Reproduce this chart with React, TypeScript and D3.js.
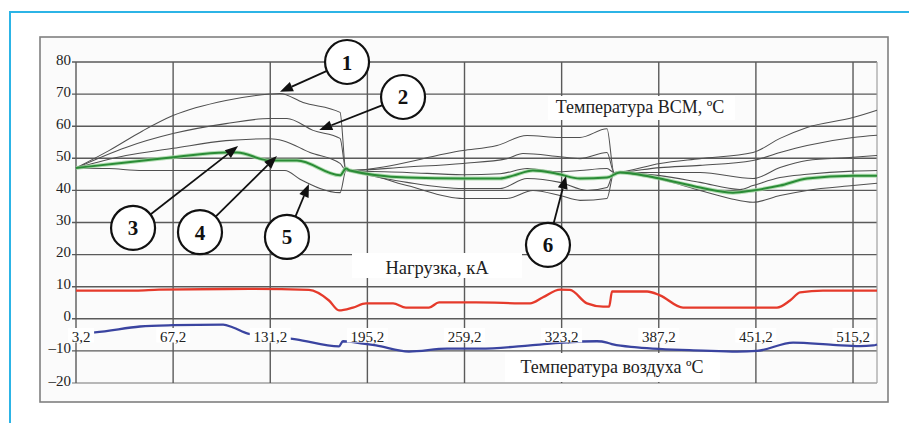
import React from 'react';
import * as d3 from 'd3';

type P = [number, number];

// axis ticks
const yTicks = [80, 70, 60, 50, 40, 30, 20, 10, 0, -10, -20];
const yTickLabels = ['80', '70', '60', '50', '40', '30', '20', '10', '0', '–10', '–20'];
const xTicks = [3.2, 67.2, 131.2, 195.2, 259.2, 323.2, 387.2, 451.2, 515.2];
const xTickLabels = ['3,2', '67,2', '131,2', '195,2', '259,2', '323,2', '387,2', '451,2', '515,2'];

// Температура ВСМ — thin grey curves
const bsm1: P[] = [
  [3.2, 47], [24.9, 52.4], [47.3, 58.6], [67.1, 63.3], [102, 68], [131, 70], [137.6, 70.2], [152.8, 67.4], [177.2, 64.3], [181.1, 46.2],
  [258.2, 52.4], [280.6, 54], [300.4, 57.1], [322.1, 56.5], [335.3, 56.5], [353.1, 59.2], [357.7, 45.6],
  [388, 48.4], [414.4, 49.9], [449.3, 51.8], [467.1, 56.2], [484.9, 59.6], [515.2, 62.7], [531, 65],
];
const bsm2: P[] = [
  [3.2, 47], [36.1, 53.4], [67.1, 57.7], [102, 60.8], [131, 62.4], [142.2, 62.4], [159.4, 58.7], [177.2, 56.2], [181.1, 46.2],
  [221.3, 47.3], [258.2, 48.4], [287.2, 49.9], [297.7, 51.5], [322.1, 50.5], [335.3, 49.9], [353.1, 51.8], [357.7, 45.6],
  [388, 47.1], [414.4, 47.8], [449.3, 49.3], [467.1, 51.8], [484.9, 54], [515.2, 56.5], [531, 57.2],
];
const bsm3: P[] = [
  [3.2, 47], [36.1, 50.9], [67.1, 53.1], [102, 55.5], [131, 56.1], [139.6, 55.5], [157.4, 51.8], [177.2, 48.4], [181.1, 46.2],
  [221.3, 45.6], [258.2, 44.9], [282.6, 45.2], [300.4, 46.8], [322.1, 45.8], [335.3, 46.2], [353.1, 46.8], [357.7, 45.6],
  [388, 45.6], [414.4, 45.6], [449.3, 43.7], [467.1, 47.1], [484.9, 49.3], [515.2, 50.3], [531, 50.9],
];
const bsm4: P[] = [
  [181.1, 46.2], [221.3, 42.5], [258.2, 40.6], [282.6, 40.6], [300.4, 43.7], [322.1, 42.5], [339.9, 40], [353.1, 40.9], [357.7, 45.6],
  [388, 44.6], [414.4, 42.5], [440.7, 40.3], [449.3, 41.5], [467.1, 44], [484.9, 45], [515.2, 46], [531, 46.2],
];
const bsm5: P[] = [
  [3.2, 47], [24.9, 46.8], [47.3, 46.2], [131, 46.2], [140.9, 46.2], [150.8, 43.5], [177.2, 39.3], [181.1, 46.2],
  [221.3, 41.5], [258.2, 37.5], [287.2, 37.5], [304.3, 40], [322.1, 38.4], [335.3, 36.9], [353.1, 37.5], [357.7, 45.6],
  [388, 43.5], [414.4, 40], [434, 37.5], [449.3, 36.3], [467.1, 38.4], [484.9, 40], [515.2, 41.5], [531, 42.2],
];
// green (6)
const bsmGreen: P[] = [
  [3.2, 47], [36.1, 48.7], [67.1, 50.3], [102, 51.8], [109.3, 51.8], [131, 49.3], [148.8, 49.3], [177.2, 44.7], [181.1, 46.8], [183.7, 46.2],
  [221.3, 44], [258.2, 43.7], [282.6, 43.7], [291.2, 44.6], [304.3, 46.2], [320.1, 45.2], [335.3, 43.7], [353.1, 44], [361.7, 45.6],
  [370.2, 45.2], [388, 43.7], [414.4, 40.9], [436.1, 39.3], [449.3, 40], [467.1, 41.5], [484.9, 43.7], [515.2, 44.6], [531, 44.6],
];

// Нагрузка, кА
const load: P[] = [
  [3.2, 8.8], [42.7, 8.8], [57.9, 9.1], [117.2, 9.3], [156.7, 9.0], [169.9, 5.7], [176.5, 2.6], [185.7, 3.5], [194.3, 4.8],
  [212.1, 4.8], [220.6, 3.5], [235.8, 3.5], [242.4, 5.1], [266.8, 5.1], [302.4, 4.8], [310.9, 6.7], [322.1, 9.1], [328.7, 9.0],
  [339.9, 4.8], [350.5, 3.8], [354.5, 3.8], [356.4, 8.5], [379.5, 8.5], [388, 7.3], [403.2, 3.5], [465.1, 3.5], [473.7, 5.7],
  [480.3, 8.2], [495.4, 8.8], [531, 8.8],
];

// Температура воздуха
const air: P[] = [
  [3.2, -4.4], [15.7, -4.2], [45.4, -2.4], [67.1, -2.0], [100.1, -1.8], [106.7, -2.7], [116.5, -4.6], [148.2, -6.4],
  [176.5, -8.6], [179.1, -7.0], [192.3, -7.7], [200.9, -8.3], [222.6, -10.2], [247.7, -9.3], [269.4, -9.3], [302.4, -8.3],
  [324.1, -7.4], [346.5, -7.0], [353.1, -7.4], [357.1, -8.0], [372.9, -8.9], [416.4, -9.9], [438.8, -10.2], [451.9, -10.0],
  [475.7, -7.4], [502, -8.1], [519.8, -8.5], [528.4, -8.3], [531, -8.0],
];

// numbered callouts: circle centre and arrow tip in data units
const callouts = [
  { n: '1', cx: 181.8, cy: 80, tx: 137.6, ty: 70.7 },
  { n: '2', cx: 218.7, cy: 69.1, tx: 163.5, ty: 58.8 },
  { n: '3', cx: 40.8, cy: 28.3, tx: 110.0, ty: 53.8 },
  { n: '4', cx: 84.9, cy: 27.0, tx: 135.6, ty: 50.7 },
  { n: '5', cx: 142.2, cy: 25.5, tx: 156.7, ty: 42.0 },
  { n: '6', cx: 314.2, cy: 23.0, tx: 326.1, ty: 44.5 },
];

const W = 909;
const H = 423;
const FONT = '"Liberation Serif", "Times New Roman", serif';

export default function App() {
  const x = d3.scaleLinear().domain([3.2, 531]).range([76, 877]);
  const y = d3.scaleLinear().domain([-20, 80]).range([383, 62]);
  const line = d3.line<P>().x((d) => x(d[0])).y((d) => y(d[1])).curve(d3.curveMonotoneX);
  const greys = [bsm1, bsm2, bsm3, bsm4, bsm5];
  const R = 22;

  return (
    <svg width={W} height={H} style={{ position: 'absolute', left: 0, top: 0, background: '#fff' }} fontFamily={FONT}>
      <path d={`M10,${H} L10,12 L${W},12`} fill="none" stroke="#2cb4e6" strokeWidth={2} />
      <rect x={40} y={37} width={848} height={365} fill="#fbfbfb" stroke="#808080" strokeWidth={1.6} />

      {/* grid */}
      {yTicks.map((t, i) => (
        <line key={'h' + i} x1={72} x2={877} y1={y(t)} y2={y(t)}
          stroke={t === -20 ? '#a0a0a0' : '#5a5a5a'} strokeWidth={1.4} />
      ))}
      {xTicks.map((t, i) => (
        <line key={'v' + i} x1={x(t)} x2={x(t)} y1={y(80)} y2={y(-20)} stroke="#5a5a5a" strokeWidth={1.4} />
      ))}
      <line x1={x(531)} x2={x(531)} y1={y(80)} y2={y(-20)} stroke="#a0a0a0" strokeWidth={1.2} />

      {/* y tick labels */}
      {yTicks.map((t, i) => (
        <text key={'yl' + i} x={71} y={y(t) + 2.5} textAnchor="end" fontSize={15} fill="#222">{yTickLabels[i]}</text>
      ))}

      {/* title boxes */}
      <rect x={548} y={96} width={187} height={24} fill="#fff" />
      <rect x={352} y={253} width={170} height={25} fill="#fff" />
      <rect x={505} y={353} width={215} height={29} fill="#fff" />

      {/* data */}
      {greys.map((s, i) => (
        <path key={'g' + i} d={line(s) || ''} fill="none" stroke="#505050" strokeWidth={1.05} strokeLinejoin="round" />
      ))}
      <path d={line(bsmGreen) || ''} fill="none" stroke="#9bd49b" strokeWidth={4} strokeOpacity={0.75} strokeLinejoin="round" />
      <path d={line(bsmGreen) || ''} fill="none" stroke="#2a8c36" strokeWidth={2} strokeLinejoin="round" />
      <path d={line(load) || ''} fill="none" stroke="#e53a2b" strokeWidth={2.3} strokeLinejoin="round" />
      <path d={line(air) || ''} fill="none" stroke="#3a44a0" strokeWidth={2.3} strokeLinejoin="round" />

      {/* x tick labels with white boxes */}
      {xTicks.map((t, i) => {
        const cx = x(t) + (i === 0 ? 5 : 0);
        const w = xTickLabels[i].length * 7.4 + 4;
        return (
          <g key={'xl' + i}>
            <rect x={cx - w / 2} y={328} width={w} height={14.5} fill="#fff" />
            <text x={cx} y={342} textAnchor="middle" fontSize={15} fill="#222">{xTickLabels[i]}</text>
          </g>
        );
      })}

      {/* titles */}
      <text x={640} y={113} textAnchor="middle" fontSize={18} fill="#222">Температура ВСМ, ºС</text>
      <text x={437} y={274} textAnchor="middle" fontSize={18.5} fill="#222">Нагрузка, кА</text>
      <text x={612} y={373} textAnchor="middle" fontSize={18} fill="#222">Температура воздуха ºС</text>

      {/* callouts */}
      {callouts.map((c) => {
        const cx = x(c.cx), cy = y(c.cy), tx = x(c.tx), ty = y(c.ty);
        const dx = tx - cx, dy = ty - cy;
        const len = Math.hypot(dx, dy);
        const ux = dx / len, uy = dy / len;
        const sx = cx + ux * R, sy = cy + uy * R;
        const hl = 13, hw = 5;
        const bx = tx - ux * hl, by = ty - uy * hl;
        const head = `M${tx},${ty} L${bx - uy * hw},${by + ux * hw} L${bx + uy * hw},${by - ux * hw} Z`;
        return (
          <g key={'c' + c.n}>
            <line x1={sx} y1={sy} x2={bx} y2={by} stroke="#111" strokeWidth={1.8} />
            <path d={head} fill="#111" />
            <circle cx={cx} cy={cy} r={R} fill="#fff" stroke="#111" strokeWidth={2.2} />
            <text x={cx} y={cy + 7.5} textAnchor="middle" fontSize={21} fontWeight="bold" fill="#111">{c.n}</text>
          </g>
        );
      })}
    </svg>
  );
}
